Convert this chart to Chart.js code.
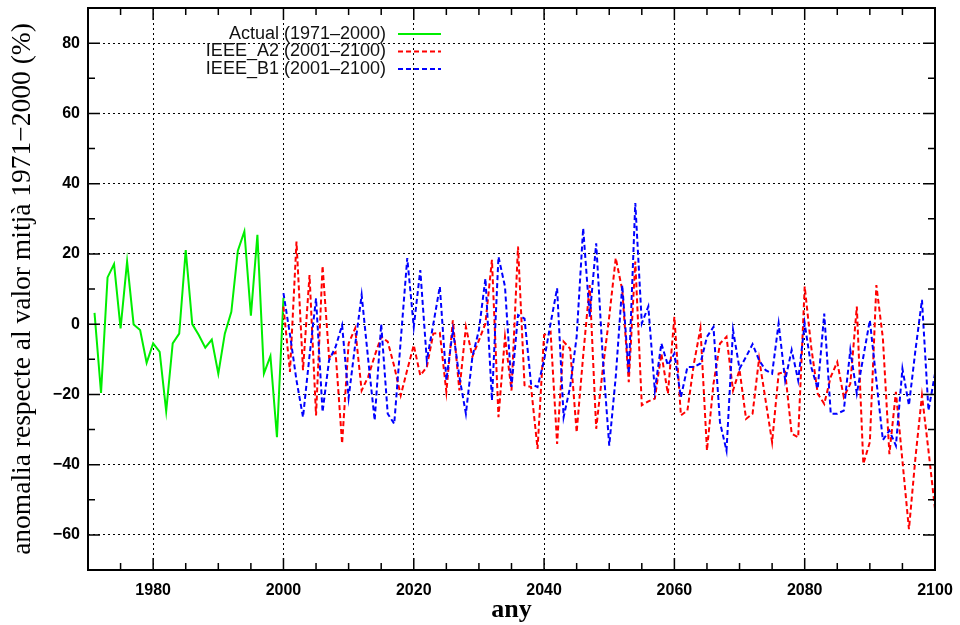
<!DOCTYPE html>
<html>
<head>
<meta charset="utf-8">
<script src="https://cdn.jsdelivr.net/npm/chart.js@4"></script>
<style>
  html, body { margin: 0; padding: 0; background: #fff; }
  #wrap { width: 960px; height: 625px; }
</style>
</head>
<body>
<div id="wrap"><canvas id="grafic"></canvas></div>
<script>
// anomalia (%) respecte la mitjana 1971-2000
const anysActual = Array.from({length: 30}, (_, i) => 1971 + i);
const valorsActual = [3.2, -19.6, 13.3, 17.1, -1.2, 17.8, -0.1, -1.7, -11, -5.5,
    -7.9, -24.8, -5.5, -2.7, 21.1, 0, -3.1, -6.7, -4.4, -14.1,
    -2.7, 3.5, 20.9, 26.4, 2.4, 25.4, -14.1, -9.1, -32.2, 7.5];

const anysProj = Array.from({length: 101}, (_, i) => 2000 + i);
const valorsA2 = [5,
    -13.6, 23.5, -13.1, 14, -26, 16.6, -9.5, -8, -34, -5.5,
    -1.2, -18.9, -15, -9, -3.6, -5, -12, -20.3, -13, -6,
    -14.6, -12.2, -2.7, -2.5, -19.3, 1.1, -18.9, -0.8, -9.3, -4.6,
    0.2, 18.3, -26.5, -3.6, -18.9, 22.1, -17.4, -17.9, -35.5, -3.1,
    -2.2, -34.1, -5, -7, -30.8, -9, 11.1, -29.8, -13, 2.1,
    18.8, 9.7, -16.5, 17.8, -23.1, -22, -21.2, -8.4, -19.8, 2.1,
    -26, -24.6, -11.2, -1.2, -36, -17, -5.5, -3.6, -18.9, -13,
    -27, -25.5, -9.8, -21.7, -33.6, -14.1, -13.6, -31.2, -32.2, 10.7,
    -6.5, -19.8, -22.7, -15, -10.8, -20.8, -17, 5, -39.8, -33.6,
    11.1, -4, -37, -19.3, -38.9, -58.4, -38, -20.3, -36, -52.6];
const valorsB1 = [8.8,
    -3, -16, -26.5, -9, 7.3, -25, -10.3, -6.5, -0.3, -21,
    -6, 8.3, -10, -27.4, 0, -25.5, -28.4, -4.6, 18.8, -0.8,
    15.4, -10.3, 0, 10.7, -16, -1.7, -15, -25.5, -9.3, -1.7,
    13, -21.7, 19.2, 10.7, -17.9, 2.6, 1.6, -17, -17.9, -10.3,
    0.2, 10.2, -26.5, -17.9, -3.6, 27.3, 2.1, 23, -9.3, -34.6,
    -15, 11.1, -14.1, 34.5, 0.2, 5, -18.9, -5.5, -11.7, -8.4,
    -20.8, -12.2, -12.2, -11.2, -3.6, -0.8, -28, -36, -1.7, -12.7,
    -9.3, -5.7, -10.3, -13.1, -14.1, 0.2, -16, -7.4, -16, 0.2,
    -12.2, -18.4, 3, -25.5, -25.5, -24.6, -7.4, -19.8, -9.3, 1.1,
    -16, -33, -30.3, -34.6, -12.7, -23.1, -7.4, 6.9, -24.6, -14.1];

const etiquetes = ['Actual (1971\u20132000)', 'IEEE_A2 (2001\u20132100)', 'IEEE_B1 (2001\u20132100)'];
const colors = ['#00ee00', '#ff0000', '#0000ff'];

const parells = (xs, ys) => xs.map((x, i) => ({x: x, y: ys[i]}));
const negre = '#000';
const fontTicks = {family: '"Liberation Sans", Arial, sans-serif', size: 16, weight: 'bold'};
const fontTitol = {family: '"Liberation Serif", "Times New Roman", serif', size: 27.5};

// marc, ticks interiors i llegenda a l'estil gnuplot
const marcPlugin = {
    id: 'marc',
    afterDraw(chart) {
        const ctx = chart.ctx;
        const a = chart.chartArea;
        const sx = chart.scales.x, sy = chart.scales.y;
        ctx.save();
        ctx.strokeStyle = negre;
        ctx.lineWidth = 1.5;
        ctx.beginPath();
        sx.ticks.forEach(t => {
            const px = sx.getPixelForValue(t.value);
            const len = t.value % 20 === 0 ? 12 : 7;
            ctx.moveTo(px, a.bottom); ctx.lineTo(px, a.bottom - len);
            ctx.moveTo(px, a.top); ctx.lineTo(px, a.top + len);
        });
        sy.ticks.forEach(t => {
            const py = sy.getPixelForValue(t.value);
            const len = t.value % 20 === 0 ? 12 : 7;
            ctx.moveTo(a.left, py); ctx.lineTo(a.left + len, py);
            ctx.moveTo(a.right, py); ctx.lineTo(a.right - len, py);
        });
        ctx.stroke();
        ctx.lineWidth = 2;
        ctx.strokeRect(a.left, a.top, a.right - a.left, a.bottom - a.top);

        // llegenda
        ctx.font = '18px "Liberation Sans", Arial, sans-serif';
        ctx.textAlign = 'right';
        ctx.textBaseline = 'middle';
        ctx.fillStyle = '#111';
        const ys = [a.top + 26, a.top + 43.5, a.top + 61];
        etiquetes.forEach((txt, i) => {
            ctx.fillText(txt, a.left + 298, ys[i]);
            ctx.beginPath();
            ctx.strokeStyle = colors[i];
            ctx.lineWidth = 2;
            ctx.setLineDash(i === 0 ? [] : [5, 3]);
            ctx.moveTo(a.left + 310, ys[i]);
            ctx.lineTo(a.left + 353, ys[i]);
            ctx.stroke();
        });
        ctx.restore();
    }
};

const colorGraella = c => (c.tick && c.tick.value % 20 === 0) ? negre : 'rgba(0,0,0,0)';

new Chart(document.getElementById('grafic'), {
    type: 'line',
    data: {
        datasets: [{
            label: etiquetes[0],
            data: parells(anysActual, valorsActual),
            borderColor: colors[0],
            borderWidth: 2,
            order: 2
        }, {
            label: etiquetes[1],
            data: parells(anysProj, valorsA2),
            borderColor: colors[1],
            borderWidth: 2,
            borderDash: [5, 3],
            order: 1
        }, {
            label: etiquetes[2],
            data: parells(anysProj, valorsB1),
            borderColor: colors[2],
            borderWidth: 2,
            borderDash: [5, 3],
            order: 0
        }]
    },
    options: {
        responsive: true,
        maintainAspectRatio: false,
        animation: false,
        elements: {
            point: {radius: 0},
            line: {tension: 0, fill: false}
        },
        layout: {padding: {top: 8, right: 25, left: 0, bottom: 0}},
        plugins: {
            legend: {display: false},
            tooltip: {enabled: false}
        },
        scales: {
            x: {
                type: 'linear',
                min: 1970,
                max: 2100,
                afterFit: s => { s.height = 55; s.paddingLeft = 0; s.paddingRight = 0; },
                ticks: {
                    stepSize: 5,
                    autoSkip: false,
                    maxRotation: 0,
                    padding: 11,
                    color: negre,
                    font: fontTicks,
                    callback: v => v % 20 === 0 ? String(v) : ''
                },
                grid: {color: colorGraella, lineWidth: 1, drawTicks: false},
                border: {display: false, dash: [2, 3]},
                title: {
                    display: true,
                    text: 'any',
                    color: negre,
                    font: {family: fontTitol.family, size: 26, weight: 'bold'},
                    padding: {top: 0, bottom: -1}
                }
            },
            y: {
                min: -70,
                max: 90,
                afterFit: s => { s.width = 88; s.paddingTop = 0; s.paddingBottom = 0; },
                ticks: {
                    stepSize: 10,
                    autoSkip: false,
                    padding: 8,
                    color: negre,
                    font: fontTicks,
                    callback: v => v % 20 === 0 ? (v < 0 ? '\u2212' + Math.abs(v) : String(v)) : ''
                },
                grid: {color: colorGraella, lineWidth: 1, drawTicks: false},
                border: {display: false, dash: [2, 3]},
                title: {
                    display: true,
                    text: 'anomalia respecte al valor mitj\u00e0 1971\u22122000 (%)',
                    color: negre,
                    font: fontTitol,
                    padding: {top: 6, bottom: 0}
                }
            }
        }
    },
    plugins: [marcPlugin]
});
</script>
</body>
</html>
